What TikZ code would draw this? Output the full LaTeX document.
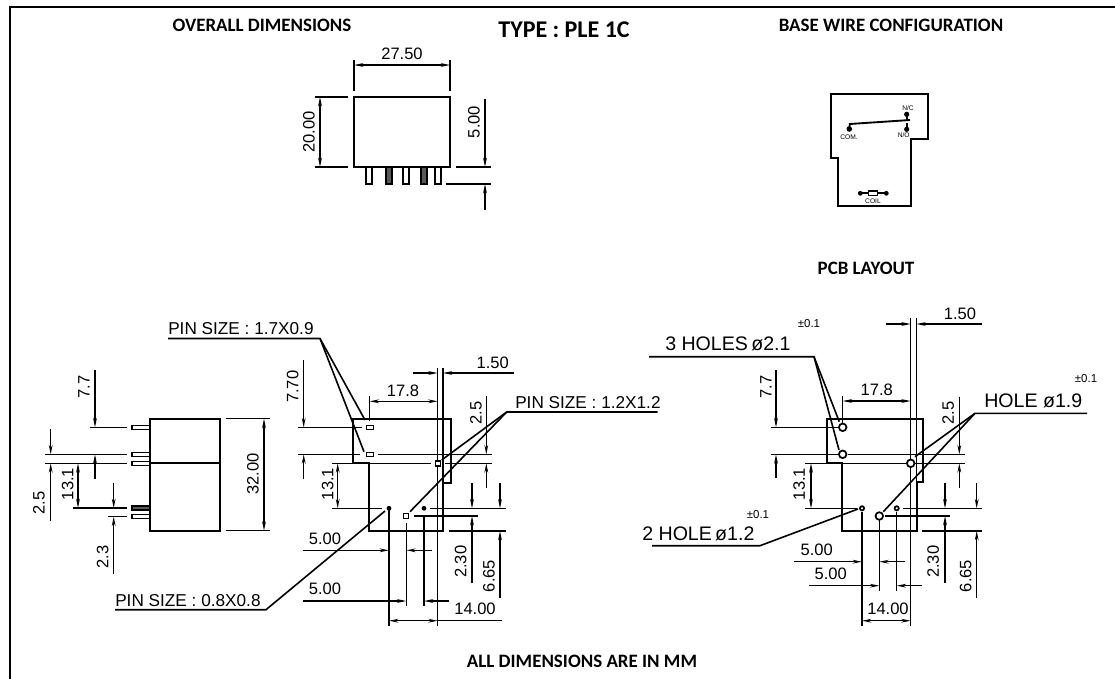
\documentclass[tikz,border=0pt]{standalone}
\usepackage{fontspec}
\setmainfont{Liberation Sans}
\newfontfamily\titlefont{Carlito}[BoldFont={Carlito Bold}]
\usetikzlibrary{arrows.meta}
\tikzset{
  outline/.style={line width=1.4pt,black,line join=miter},
  thin line/.style={line width=0.9pt,black},
  lead/.style={line width=1.2pt,black},
  dimarrow/.style={line width=0.9pt,black,-{Stealth[length=7pt,width=2.8pt]}},
  dimboth/.style={line width=0.9pt,black,{Stealth[length=7pt,width=2.8pt]}-{Stealth[length=7pt,width=2.8pt]}},
  dimtext/.style={inner sep=0pt,font=\fontsize{12.4}{14}\selectfont},
  dimtextv/.style={dimtext,rotate=90},
  leadtext/.style={inner sep=0pt,font=\fontsize{12.9}{14}\selectfont},
  bigtext/.style={inner sep=0pt,font=\fontsize{14.7}{16}\selectfont},
  toltext/.style={inner sep=0pt,font=\fontsize{8.6}{10}\selectfont},
  headtext/.style={inner sep=0pt,font=\titlefont\bfseries\fontsize{14.2}{16}\selectfont},
  typetext/.style={inner sep=0pt,font=\titlefont\bfseries\fontsize{18}{20}\selectfont},
  tinytext/.style={inner sep=0pt,font=\fontsize{5}{6}\selectfont},
  pinbox/.style={line width=0.9pt,black,fill=white},
  pindark/.style={line width=0.9pt,black,fill=black!65},
  dot/.style={fill=black,draw=none},
  hole/.style={line width=1.3pt,black,fill=white},
}
\begin{document}
\begin{tikzpicture}[x=0.75pt,y=-0.75pt]
\useasboundingbox (0,0) rectangle (1115,679);
% frame
\draw[line width=1.2pt] (10,679) -- (10,7) -- (1115,7);
% titles
\node[headtext] (t1) at (262,25) {OVERALL DIMENSIONS};
\node[typetext] (t2) at (564,30) {TYPE : PLE 1C};
\node[headtext] (t3) at (891,25) {BASE WIRE CONFIGURATION};
\node[headtext] (t4) at (866,268) {PCB LAYOUT};
\node[headtext] (t5) at (582,661) {ALL DIMENSIONS ARE IN MM};

% ---------- overall dimensions
\draw[outline] (354,97) rectangle (450,167);
\foreach \x/\s in {369/pinbox,389/pindark,406/pinbox,424/pindark,438/pinbox}
  \draw[\s] (\x-3,167) rectangle (\x+3,184);
\draw[thin line] (354,60) -- (354,91) (450,60) -- (450,91);
\draw[dimboth] (354,65) -- (450,65);
\node[dimtext] at (402,54) {27.50};
\draw[thin line] (315,97) -- (348,97) (315,167) -- (348,167);
\draw[dimboth] (320,97) -- (320,167);
\node[dimtextv] at (309,132) {20.00};
\draw[thin line] (456,167) -- (491,167) (446,184) -- (491,184);
\draw[dimarrow] (485,99) -- (485,167);
\draw[dimarrow] (485,210) -- (485,184);
\node[dimtextv] at (474,122) {5.00};

% ---------- base wire configuration
\draw[outline] (830.7,94) -- (928,94) -- (928,139) -- (911.3,139) -- (911.3,206) -- (838.3,206) -- (838.3,158) -- (830.7,158) -- cycle;
\fill[dot] (849.3,129) circle (2.8);
\fill[dot] (906.7,114.3) circle (2.6);
\fill[dot] (906.7,129.3) circle (2.6);
\draw[outline] (849.3,129) -- (849.8,124) -- (910,120);
\draw[outline] (906.7,114.3) -- (906.7,120);
\draw[outline] (906.7,123) -- (906.7,129.3);
\node[tinytext] at (908,108) {N/C};
\node[tinytext] at (849,137) {COM.};
\node[tinytext] at (903.7,135.5) {N/O};
\fill[dot] (860.3,193.3) circle (2.4);
\fill[dot] (886.3,193.3) circle (2.4);
\draw[outline] (860.3,193.3) -- (886.3,193.3);
\draw[line width=0.9pt,fill=white] (868.7,191) rectangle (877.7,195.7);
\node[tinytext] at (873,201) {COIL};

% ---------- left side view
\draw[outline] (149.7,418.7) rectangle (220.3,530.7);
\draw[outline] (149.7,463.3) -- (220.3,463.3);
\foreach \y/\s in {427.3/pinbox,454.3/pinbox,463.3/pinbox,508/pindark,516.7/pinbox}
  \draw[\s] (132,\y-2) rectangle (149.7,\y+2);
\draw[thin line] (89.7,427.3) -- (126.7,427.3);
\draw[dimarrow] (95,370) -- (95,427.3);
\draw[dimarrow] (95,479) -- (95,454.3);
\node[dimtextv] at (84,387) {7.7};
\draw[thin line] (225.7,418.7) -- (270,418.7) (225.7,530.7) -- (270,530.7);
\draw[dimboth] (264,418.7) -- (264,530.7);
\node[dimtextv] at (253,474) {32.00};
\draw[thin line] (45,454.3) -- (126.7,454.3) (45,463.3) -- (126.7,463.3);
\draw[dimarrow] (50.7,429) -- (50.7,454.3);
\draw[dimarrow] (50.7,520.7) -- (50.7,463.3);
\node[dimtextv] at (39,503) {2.5};
\draw[thin line] (72.7,508) -- (126.7,508) (108,516.7) -- (126.7,516.7);
\draw[dimboth] (78,463.3) -- (78,508);
\node[dimtextv] at (67.7,484) {13.1};
\draw[dimarrow] (113.7,482.7) -- (113.7,508);
\draw[dimarrow] (113.7,574) -- (113.7,516.7);
\node[dimtextv] at (102.7,556.7) {2.3};

% ---------- bottom view, pins
\draw[outline] (353.3,419) -- (450.7,419) -- (450.7,482.7) -- (443.3,482.7) -- (443.3,531) -- (369.3,531) -- (369.3,463.3) -- (353.3,463.3) -- cycle;
% dimension lines
\draw[thin line] (298,427.3) -- (362,427.3);
\draw[thin line] (298,454.3) -- (360,454.3) (378,454.3) -- (491.7,454.3);
\draw[thin line] (332,463.3) -- (353.3,463.3) (369.3,463.3) -- (431,463.3) (445,463.3) -- (491.7,463.3);
\draw[thin line] (332,508.3) -- (381.7,508.3);
\draw[thin line] (430,508.3) -- (505.7,508.3);
\draw[thin line] (414,516) -- (477.7,516);
\draw[thin line] (449,531) -- (505.7,531);
\draw[thin line] (369.7,396) -- (369.7,421);
\draw[thin line] (437.7,368.3) -- (437.7,626);
\draw[thin line] (442.9,368.3) -- (442.9,482.7);
\draw[thin line] (389,508.3) -- (389,626);
\draw[thin line] (406.3,523) -- (406.3,606);
\draw[thin line] (424,515) -- (424,606);
\draw[dimboth] (369.7,401.3) -- (437.7,401.3);
\node[dimtext] at (403,390.7) {17.8};
\draw[dimarrow] (412.7,373) -- (437.7,373);
\draw[dimarrow] (514,373) -- (442.9,373);
\node[dimtext] at (492.7,362.7) {1.50};
\draw[dimarrow] (303.7,360) -- (303.7,427.3);
\draw[dimarrow] (303.7,479) -- (303.7,454.3);
\node[dimtextv] at (292.7,386.7) {7.70};
\draw[dimboth] (337.7,463.3) -- (337.7,508.3);
\node[dimtextv] at (327.7,484) {13.1};
\draw[dimarrow] (486.3,396) -- (486.3,454.3);
\draw[dimarrow] (486.3,488) -- (486.3,463.3);
\node[dimtextv] at (476,412.7) {2.5};
\draw[dimarrow] (472,483.3) -- (472,508.3);
\draw[dimarrow] (472,583) -- (472,516);
\node[dimtextv] at (460.7,561.7) {2.30};
\draw[dimarrow] (500,483.3) -- (500,508.3);
\draw[dimarrow] (500,598.3) -- (500,531);
\node[dimtextv] at (489,576) {6.65};
\draw[dimarrow] (302.7,550.3) -- (389,550.3);
\draw[dimarrow] (432,550.3) -- (406.3,550.3);
\node[dimtext] at (325,539) {5.00};
\draw[dimarrow] (303,601) -- (406.3,601);
\draw[dimarrow] (449,601) -- (424,601);
\node[dimtext] at (325,589) {5.00};
\draw[dimboth] (389,620.7) -- (437.7,620.7);
\draw[thin line] (437.7,620.7) -- (501.7,620.7);
\node[dimtext] at (475,609.3) {14.00};
% pins
\draw[pinbox] (366.2,425.3) rectangle (373.2,429.3);
\draw[pinbox] (366.2,452.3) rectangle (373.2,456.3);
\draw[pinbox] (435.5,461) rectangle (440.5,466);
\draw[pinbox] (403.8,513.5) rectangle (408.8,518.5);
\fill[dot] (389,508.3) circle (2.4);
\fill[dot] (424,508.3) circle (2.4);
% leaders
\node[leadtext,anchor=west] (p1) at (168,329) {PIN SIZE : 1.7X0.9};
\draw[lead] (168,338.5) -- (320,338.5) -- (365,420);
\draw[lead] (320,338.5) -- (364,451.7);
\node[leadtext,anchor=west] (p2) at (515,403) {PIN SIZE : 1.2X1.2};
\draw[lead] (657.7,412) -- (506.7,412) -- (441.7,460);
\draw[lead] (506.7,412) -- (410,511.7);
\node[leadtext,anchor=west] (p3) at (115,601) {PIN SIZE : 0.8X0.8};
\draw[lead] (115,609.7) -- (266,609.7) -- (385,511);

% ---------- PCB layout
\draw[outline] (826.7,418.7) -- (923.3,418.7) -- (923.3,482) -- (916.7,482) -- (916.7,531) -- (842.3,531) -- (842.3,463.3) -- (826.7,463.3) -- cycle;
\draw[thin line] (770.7,427.3) -- (838,427.3);
\draw[thin line] (770.7,454.3) -- (838,454.3) (848,454.3) -- (964.7,454.3);
\draw[thin line] (805,463.3) -- (906,463.3) (915,463.3) -- (964.7,463.3);
\draw[thin line] (805,508.3) -- (856.7,508.3);
\draw[thin line] (902.7,508.3) -- (982,508.3);
\draw[thin line] (885,516) -- (950,516);
\draw[thin line] (921.7,531) -- (982,531);
\draw[thin line] (842.7,396) -- (842.7,423);
\draw[thin line] (910.7,318.3) -- (910.7,626);
\draw[thin line] (916.3,318.3) -- (916.3,482);
\draw[thin line] (862,511.7) -- (862,626);
\draw[thin line] (879.3,520) -- (879.3,591);
\draw[thin line] (896.7,512) -- (896.7,591);
\draw[dimarrow] (885.7,324) -- (910.7,324);
\draw[dimarrow] (981.7,324) -- (916.3,324);
\node[dimtext] at (960,314) {1.50};
\draw[dimboth] (842.7,401) -- (910.7,401);
\node[dimtext] at (876.7,390) {17.8};
\draw[dimarrow] (776,370) -- (776,427.3);
\draw[dimarrow] (776,478) -- (776,454.3);
\node[dimtextv] at (766,387) {7.7};
\draw[dimboth] (811,463.3) -- (811,508.3);
\node[dimtextv] at (799.3,484) {13.1};
\draw[dimarrow] (959.3,396.7) -- (959.3,454.3);
\draw[dimarrow] (959.3,488) -- (959.3,463.3);
\node[dimtextv] at (948.3,413) {2.5};
\draw[dimarrow] (945,483.3) -- (945,508.3);
\draw[dimarrow] (945,583) -- (945,516);
\node[dimtextv] at (933.3,561.7) {2.30};
\draw[dimarrow] (976.7,483.3) -- (976.7,508.3);
\draw[dimarrow] (976.7,598) -- (976.7,531);
\node[dimtextv] at (965.7,576) {6.65};
\draw[dimarrow] (794.3,561.7) -- (862,561.7);
\draw[dimarrow] (905,561.7) -- (879.3,561.7);
\node[dimtext] at (816.7,550) {5.00};
\draw[dimarrow] (809,585.7) -- (879.3,585.7);
\draw[dimarrow] (921.7,585.7) -- (896.7,585.7);
\node[dimtext] at (830.7,574) {5.00};
\draw[dimboth] (862,620.7) -- (910.7,620.7);
\node[dimtext] at (888,609) {14.00};
% holes
\draw[hole] (842.7,427.3) circle (3.8);
\draw[hole] (842.7,454.3) circle (3.8);
\draw[hole] (910.7,463.3) circle (3.8);
\draw[hole] (879.3,516) circle (3.8);
\draw[hole] (862,508.3) circle (2.1);
\draw[hole] (896.7,508.3) circle (2.1);
% leaders
\node[bigtext,anchor=west] (h1) at (665,344) {3 HOLES\,ø2.1};
\draw[lead] (649,356.7) -- (814,356.7) -- (839.3,421.7);
\draw[lead] (814,356.7) -- (839,450);
\node[toltext] (h1t) at (809,323.3) {±0.1};
\node[bigtext,anchor=west] (h2) at (984,401) {HOLE ø1.9};
\draw[lead] (1087,413.3) -- (975,413.3) -- (915,456.7);
\draw[lead] (975,413.3) -- (883.3,511.7);
\node[toltext] (h2t) at (1086,379) {±0.1};
\node[bigtext,anchor=west] (h3) at (642,534) {2 HOLE\,ø1.2};
\draw[lead] (652,545.7) -- (760,545.7) -- (858,509);
\node[toltext] (h3t) at (758,515) {±0.1};
\end{tikzpicture}
\end{document}
